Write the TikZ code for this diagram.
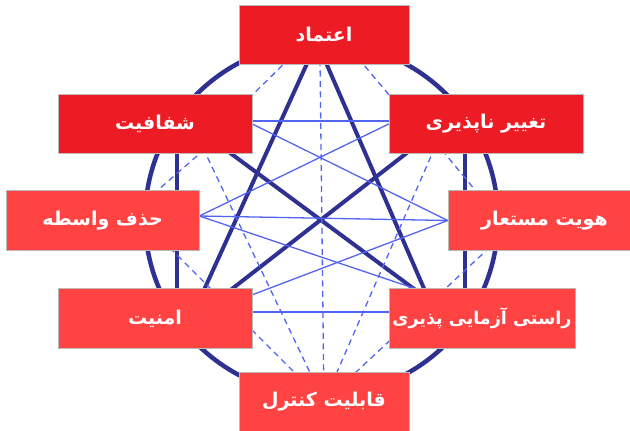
\documentclass[tikz,border=0pt]{standalone}
\usepackage{fontspec}
\newfontfamily\arabicfont[Script=Arabic]{DejaVu Sans}
\TeXXeTstate=1
\usetikzlibrary{calc}

\definecolor{navyline}{HTML}{2E3192}
\definecolor{thinblue}{HTML}{5264F2}
\definecolor{darkbox}{HTML}{ED1C24}
\definecolor{lightbox}{HTML}{FF4343}

\pgfdeclarelayer{background}
\pgfsetlayers{background,main}

\begin{document}
\begin{tikzpicture}[
    x=1pt,
    y=-1pt,
    every node/.style={font=\arabicfont\bfseries\fontsize{19}{22}\selectfont, text=white},
    box/.style={draw=gray!55, line width=0.6pt, inner sep=0pt, minimum height=59.5pt},
    starline/.style={navyline, line width=4pt},
    linkline/.style={thinblue, line width=1.3pt},
    dashline/.style={thinblue, line width=1.3pt, dash pattern=on 6pt off 4.5pt}
]

    \useasboundingbox (0,0) rectangle (630,431);
    \clip (0,0) rectangle (630,431);

    \node[box, fill=darkbox, minimum width=170pt] (A) at (324,35) {\beginR اعتماد\endR};
    \node[box, fill=darkbox, minimum width=194pt] (S) at (155,124) {\beginR شفافیت\endR};
    \node[box, fill=darkbox, minimum width=194pt] (T) at (486,124) {\beginR تغییر ناپذیری\endR};
    \node[box, fill=lightbox, minimum width=193pt] (H) at (102.5,220.5) {\beginR حذف واسطه\endR};
    \node[box, fill=lightbox, minimum width=193pt] (M) at (544.5,220.5) {\beginR هویت مستعار\endR};
    \node[box, fill=lightbox, minimum width=194pt] (N) at (155,318.5) {\beginR امنیت\endR};
    \node[box, fill=lightbox, minimum width=186pt, font=\arabicfont\bfseries\fontsize{17.6}{21}\selectfont] (R) at (482,318.5) {\beginR راستی آزمایی پذیری\endR};
    \node[box, fill=lightbox, minimum width=170pt] (Q) at (324,402) {\beginR قابلیت کنترل\endR};

    \begin{pgfonlayer}{background}
        \draw[navyline, line width=4.5pt] (321.5,219) circle[radius=176.5pt];

        % star
        \draw[starline] ($(A)+(-4,0)$) -- ($(N)+(36,0)$);
        \draw[starline] ($(A)+(-10,0)$) -- ($(R)+(-45,0)$);
        \draw[starline] ($(S)+(36,0)$) -- ($(R)+(-28,0)$);
        \draw[starline] ($(T)+(-42,0)$) -- ($(N)+(39,0)$);
        \draw[starline] ($(S)+(22,0)$) -- ($(N)+(22,0)$);
        \draw[starline] ($(T)+(-21,0)$) -- ($(R)+(-17,0)$);

        \draw[linkline] ($(S.east)+(0,-3)$) -- ($(T.west)+(0,-3)$);
        \draw[linkline] (S.east) -- (M.west);
        \draw[linkline] (T.west) -- ($(H.east)+(0,-4.5)$);
        \draw[linkline] ($(H.east)+(0,-4.5)$) -- (M.west);
        \draw[linkline] ($(H.east)+(0,-4.5)$) -- ($(R)+(-42,-21.5)$);
        \draw[linkline] (M.west) -- ($(N)+(85,-19)$);
        \draw[linkline] ($(N.east)+(0,-6.5)$) -- ($(R.west)+(0,-6.5)$);

        \draw[dashline] ($(A)+(-34,23)$) -- ($(S)+(91,-23)$);
        \draw[dashline] ($(A)+(34,23)$) -- ($(T)+(-91,-22)$);
        \draw[dashline] ($(S)+(50,25)$) -- ($(H)+(47.5,-23.5)$);
        \draw[dashline] ($(T)+(-44,26)$) -- ($(M)+(-64.5,-24.5)$);
        \draw[dashline] ($(A)+(-4,25)$) -- (Q.center);
        \draw[dashline] ($(S)+(48,24)$) -- (Q.center);
        \draw[dashline] ($(T)+(-51,23)$) -- (Q.center);
        \draw[dashline] ($(H)+(67.5,27.5)$) -- (Q.center);
        \draw[dashline] ($(M)+(-54.5,26.5)$) -- (Q.center);
    \end{pgfonlayer}

\end{tikzpicture}
\end{document}
